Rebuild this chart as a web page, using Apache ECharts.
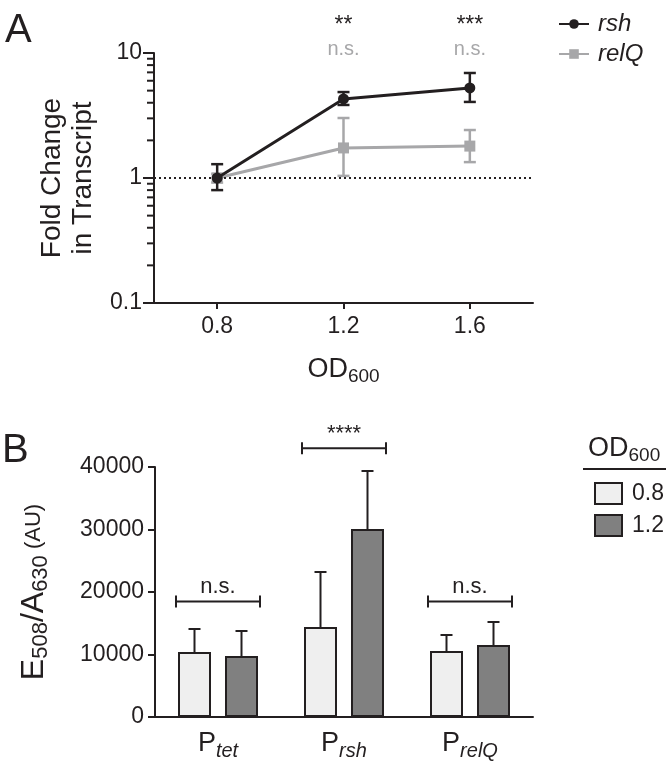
<!DOCTYPE html>
<html><head><meta charset="utf-8">
<script src="https://cdn.jsdelivr.net/npm/echarts@6/dist/echarts.min.js"></script>
<style>html,body{margin:0;padding:0;background:#fff}#c{width:666px;height:767px}</style>
</head><body><div id="c"></div>
<script>
// ---------- Panel A data ----------
const odValues = [0.8, 1.2, 1.6];
const rshMean = [1.0, 4.29, 5.25];
const rshLow  = [0.80, 3.84, 4.06];
const rshHigh = [1.29, 4.87, 6.92];
const relqMean = [1.0, 1.74, 1.80];
const relqLow  = [0.92, 1.04, 1.34];
const relqHigh = [1.08, 3.02, 2.42];
const sigRsh  = ['', '**', '***'];
const sigRelq = ['', 'n.s.', 'n.s.'];
const logMinorTicks = [0.2,0.3,0.4,0.5,0.6,0.7,0.8,0.9,2,3,4,5,6,7,8,9];

// ---------- Panel B data ----------
const promoters = ['tet', 'rsh', 'relQ'];
const od08Mean = [10400, 14400, 10560];
const od08Top  = [14080, 23200, 13120];
const od12Mean = [9760, 30080, 11520];
const od12Top  = [13760, 39360, 15200];
const sigB = ['n.s.', '****', 'n.s.'];
const bracketLevel = [18500, 43000, 18500];

const FONT = '"Liberation Sans", Arial, Helvetica, sans-serif';
const INK = '#231f20';
const GRAY = '#a7a7a9';
const BAR_W = 33, BAR_GAP = 14;

const chart = echarts.init(document.getElementById('c'));

function errBarRender(color) {
  return function (params, api) {
    const x = api.value(0);
    const lo = api.coord([x, api.value(1)]);
    const hi = api.coord([x, api.value(2)]);
    const cw = 6;
    const style = {stroke: color, lineWidth: 2.5};
    return {type: 'group', children: [
      {type: 'line', shape: {x1: lo[0], y1: lo[1], x2: hi[0], y2: hi[1]}, style},
      {type: 'line', shape: {x1: lo[0]-cw, y1: lo[1], x2: lo[0]+cw, y2: lo[1]}, style},
      {type: 'line', shape: {x1: hi[0]-cw, y1: hi[1], x2: hi[0]+cw, y2: hi[1]}, style}
    ]};
  };
}

function barErrRender(side) {
  return function (params, api) {
    const c = api.value(0);
    const base = api.coord([c, api.value(1)]);
    const top = api.coord([c, api.value(2)]);
    const x = base[0] + side * (BAR_W + BAR_GAP) / 2;
    const style = {stroke: INK, lineWidth: 2};
    return {type: 'group', children: [
      {type: 'line', shape: {x1: x, y1: base[1], x2: x, y2: top[1]}, style},
      {type: 'line', shape: {x1: x-6, y1: top[1], x2: x+6, y2: top[1]}, style}
    ]};
  };
}

const subRich = (size, shift, extra) => Object.assign({fontSize: size, fontFamily: FONT, color: INK, padding: [shift, 0, 0, 0]}, extra || {});

const baseGraphic = [
  {id: 'lblA', type: 'text', left: 5, top: 11, style: {text: 'A', fontSize: 40, fontFamily: FONT, fill: INK}},
  {id: 'lblB', type: 'text', left: 2, top: 431, style: {text: 'B', fontSize: 40, fontFamily: FONT, fill: INK}},
  {id: 'legTitle', type: 'text', left: 588, top: 435, style: {rich: {a: {fontSize: 27, fontFamily: FONT, fill: INK}, s: {fontSize: 19, fontFamily: FONT, fill: INK, padding: [14,0,0,0]}}, text: '{a|OD}{s|600}'}},
  {id: 'legRule', type: 'line', shape: {x1: 583, y1: 469, x2: 666, y2: 469}, style: {stroke: INK, lineWidth: 2}}
];

const option = {
  animation: false,
  backgroundColor: '#fff',
  textStyle: {fontFamily: FONT, color: INK},
  grid: [
    {left: 154, top: 53, width: 379, height: 250},
    {left: 155, top: 467, width: 378, height: 250}
  ],
  legend: [
    {
      left: 553, top: 7, orient: 'vertical', itemWidth: 30, itemHeight: 12, itemGap: 6,
      data: ['rsh', 'relQ'],
      textStyle: {fontSize: 24, fontStyle: 'italic', color: INK, lineHeight: 24, fontFamily: FONT, padding: [0, 0, 0, 4]}
    },
    {
      left: 589, top: 477, orient: 'vertical', itemWidth: 27, itemHeight: 21, itemGap: 9, icon: 'rect',
      data: ['0.8', '1.2'],
      textStyle: {fontSize: 23, color: INK, fontFamily: FONT, padding: [0, 0, 0, 5]}
    }
  ],
  xAxis: [
    {
      type: 'value', gridIndex: 0, min: 0.6, max: 1.8,
      splitLine: {show: false},
      axisLine: {lineStyle: {color: INK, width: 2}},
      axisTick: {show: true, customValues: odValues, length: 6, lineStyle: {color: INK, width: 2}},
      axisLabel: {customValues: odValues, fontSize: 23, color: INK, margin: 12, formatter: v => v.toFixed(1)},
      name: '{a|OD}{s|600}', nameLocation: 'middle', nameGap: 50,
      nameTextStyle: {rich: {a: {fontSize: 27, fontFamily: FONT, color: INK}, s: subRich(19, 14)}}
    },
    {
      type: 'category', gridIndex: 1, data: promoters,
      axisLine: {lineStyle: {color: INK, width: 2}},
      axisTick: {alignWithLabel: true, length: 8, lineStyle: {color: INK, width: 2}},
      axisLabel: {
        margin: 10, interval: 0,
        formatter: v => '{p|P}{s|' + v + '}',
        rich: {p: {fontSize: 27, fontFamily: FONT, color: INK}, s: subRich(20, 14, {fontStyle: 'italic'})}
      }
    }
  ],
  yAxis: [
    {
      type: 'log', gridIndex: 0, min: 0.1, max: 10, logBase: 10,
      splitLine: {show: false},
      axisLine: {show: true, lineStyle: {color: INK, width: 2}},
      axisTick: {show: true, length: 11, lineStyle: {color: INK, width: 2}},
      axisLabel: {fontSize: 23, color: INK, margin: 12, formatter: v => String(v)},
      name: 'Fold Change\nin Transcript', nameLocation: 'middle', nameGap: 52,
      nameTextStyle: {fontSize: 28, lineHeight: 31, color: INK, fontFamily: FONT}
    },
    {
      type: 'value', gridIndex: 1, min: 0, max: 40000, interval: 10000,
      splitLine: {show: false},
      axisLine: {show: true, lineStyle: {color: INK, width: 2}},
      axisTick: {show: true, length: 7, lineStyle: {color: INK, width: 2}},
      axisLabel: {fontSize: 23, color: INK, margin: 11, formatter: v => String(v)},
      name: '{e|E}{s|508}{e|/A}{s|630}{au| (AU)}', nameLocation: 'middle', nameGap: 103,
      nameTextStyle: {rich: {e: {fontSize: 32, fontFamily: FONT, color: INK}, s: subRich(22, 14), au: {fontSize: 22, fontFamily: FONT, color: INK}}}
    }
  ],
  graphic: baseGraphic,
  series: [
    {
      type: 'custom', xAxisIndex: 1, yAxisIndex: 1, silent: true, z: 3,
      data: promoters.map((c, i) => [i, od08Mean[i], od08Top[i]]),
      renderItem: barErrRender(-1)
    },
    {
      type: 'custom', xAxisIndex: 1, yAxisIndex: 1, silent: true, z: 3,
      data: promoters.map((c, i) => [i, od12Mean[i], od12Top[i]]),
      renderItem: barErrRender(1)
    },
    {
      type: 'custom', name: 'relQErr', xAxisIndex: 0, yAxisIndex: 0, z: 2, silent: true,
      data: odValues.map((x, i) => [x, relqLow[i], relqHigh[i]]),
      renderItem: errBarRender(GRAY)
    },
    {
      type: 'line', name: 'relQ', xAxisIndex: 0, yAxisIndex: 0, z: 3,
      data: odValues.map((x, i) => [x, relqMean[i]]),
      symbol: 'rect', symbolSize: 11, color: GRAY,
      lineStyle: {color: GRAY, width: 3}, itemStyle: {color: GRAY}
    },
    {
      type: 'custom', name: 'rshErr', xAxisIndex: 0, yAxisIndex: 0, z: 4, silent: true,
      data: odValues.map((x, i) => [x, rshLow[i], rshHigh[i]]),
      renderItem: errBarRender(INK)
    },
    {
      type: 'line', name: 'rsh', xAxisIndex: 0, yAxisIndex: 0, z: 5,
      data: odValues.map((x, i) => [x, rshMean[i]]),
      symbol: 'circle', symbolSize: 11, color: INK,
      lineStyle: {color: INK, width: 3}, itemStyle: {color: INK},
      markLine: {
        silent: true, symbol: 'none', label: {show: false},
        lineStyle: {type: [2, 3], color: INK, width: 2},
        data: [{yAxis: 1}]
      }
    },
    // significance labels panel A
    {
      type: 'custom', xAxisIndex: 0, yAxisIndex: 0, clip: false, silent: true, z: 6,
      data: odValues.map((x, i) => [x, 10, i]),
      renderItem: (p, api) => {
        const c = api.coord([api.value(0), api.value(1)]);
        const i = api.value(2);
        return {type: 'group', children: [
          {type: 'text', x: c[0], y: c[1] - 27, style: {text: sigRsh[i], fontSize: 23, fontFamily: FONT, fill: INK, align: 'center', verticalAlign: 'middle'}},
          {type: 'text', x: c[0], y: c[1] - 4, style: {text: sigRelq[i], fontSize: 20, fontFamily: FONT, fill: GRAY, align: 'center', verticalAlign: 'middle'}}
        ]};
      }
    },
    // Panel B bars
    {
      type: 'bar', name: '0.8', xAxisIndex: 1, yAxisIndex: 1, barWidth: BAR_W, barGap: (BAR_GAP / BAR_W * 100) + '%',
      data: od08Mean, itemStyle: {color: '#efefef', borderColor: INK, borderWidth: 2}, z: 2
    },
    {
      type: 'bar', name: '1.2', xAxisIndex: 1, yAxisIndex: 1, barWidth: BAR_W,
      data: od12Mean, itemStyle: {color: '#808080', borderColor: INK, borderWidth: 2}, z: 2
    },
    // brackets
    {
      type: 'custom', xAxisIndex: 1, yAxisIndex: 1, silent: true, clip: false, z: 4,
      data: promoters.map((c, i) => [i, bracketLevel[i]]),
      renderItem: (p, api) => {
        const c = api.coord([api.value(0), api.value(1)]);
        const half = api.size([1, 0])[0] / 3;
        const i = api.value(0);
        const style = {stroke: INK, lineWidth: 2};
        return {type: 'group', children: [
          {type: 'line', shape: {x1: c[0]-half, y1: c[1], x2: c[0]+half, y2: c[1]}, style},
          {type: 'line', shape: {x1: c[0]-half, y1: c[1]-6, x2: c[0]-half, y2: c[1]+6}, style},
          {type: 'line', shape: {x1: c[0]+half, y1: c[1]-6, x2: c[0]+half, y2: c[1]+6}, style},
          {type: 'text', x: c[0], y: c[1] - 3, style: {text: sigB[i], fontSize: 22, fontFamily: FONT, fill: INK, align: 'center', verticalAlign: 'bottom'}}
        ]};
      }
    }
  ]
};
chart.setOption(option);

// log-axis minor ticks for panel A, placed through the chart's own scale
const minorGraphics = logMinorTicks.map((v, k) => {
  const p = chart.convertToPixel({xAxisIndex: 0, yAxisIndex: 0}, [0.6, v]);
  return {id: 'minor' + k, type: 'line', z: 100,
    shape: {x1: p[0] - 7, y1: p[1], x2: p[0], y2: p[1]},
    style: {stroke: INK, lineWidth: 2}};
});
chart.setOption({graphic: baseGraphic.concat(minorGraphics)});
</script></body></html>
